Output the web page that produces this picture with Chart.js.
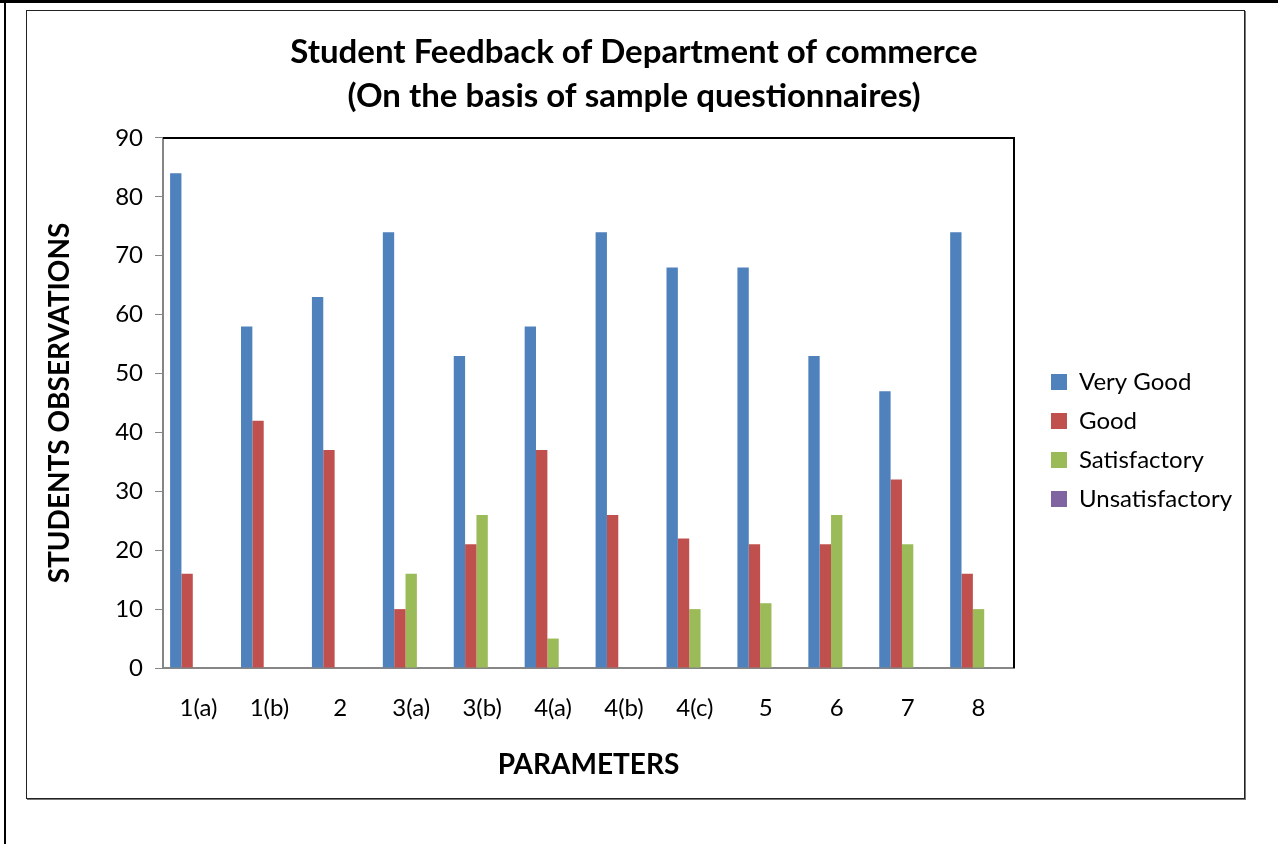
<!DOCTYPE html>
<html>
<head>
<meta charset="utf-8">
<script src="https://cdn.jsdelivr.net/npm/chart.js@4.4.1/dist/chart.umd.min.js"></script>
<style>
  body { margin: 0; background: #fff; }
  #page { position: relative; width: 1278px; height: 844px; overflow: hidden; }
  #outerTop { position: absolute; left: 0; top: 0; width: 1278px; height: 3px; background: #000; }
  #outerLeft { position: absolute; left: 4px; top: 0; width: 2px; height: 844px; background: #000; }
  #box { position: absolute; left: 26px; top: 10px; width: 1217px; height: 787px; border: 1px solid #222; box-shadow: 1px 1px 0 #777; }
  #Chart { position: absolute; left: 0; top: 0; }
</style>
</head>
<body>
<div id="page">
  <div id="outerTop"></div>
  <div id="outerLeft"></div>
  <div id="box"></div>
  <canvas id="Chart" width="1278" height="844"></canvas>
</div>
<script>
const categories = ["1(a)", "1(b)", "2", "3(a)", "3(b)", "4(a)", "4(b)", "4(c)", "5", "6", "7", "8"];
const veryGood = [84, 58, 63, 74, 53, 58, 74, 68, 68, 53, 47, 74];
const good = [16, 42, 37, 10, 21, 37, 26, 22, 21, 21, 32, 16];
const satisfactory = [0, 0, 0, 16, 26, 5, 0, 10, 11, 26, 21, 10];
const unsatisfactory = [0, 0, 0, 0, 0, 0, 0, 0, 0, 0, 0, 0];
// empty slot kept by the original sheet (no legend entry)
const blank = [null, null, null, null, null, null, null, null, null, null, null, null];

const FONT = "Lato";

// black frame on top/right of the plot area
const plotFrame = {
  id: "plotFrame",
  afterDraw(chart) {
    const { ctx, chartArea } = chart;
    ctx.save();
    ctx.strokeStyle = "#000";
    ctx.lineWidth = 2;
    ctx.beginPath();
    ctx.moveTo(chartArea.left, chartArea.top);
    ctx.lineTo(chartArea.right, chartArea.top);
    ctx.lineTo(chartArea.right, chartArea.bottom);
    ctx.stroke();
    ctx.restore();
  },
};

const ctx = document.getElementById("Chart");

new Chart(ctx, {
  type: "bar",
  data: {
    labels: categories,
    datasets: [
      { label: "Very Good", data: veryGood, backgroundColor: "#4F81BD" },
      { label: "Good", data: good, backgroundColor: "#C0504D" },
      { label: "Satisfactory", data: satisfactory, backgroundColor: "#9BBB59" },
      { label: "Unsatisfactory", data: unsatisfactory, backgroundColor: "#8064A2" },
      { label: "", data: blank, backgroundColor: "rgba(0,0,0,0)" },
    ],
  },
  options: {
    responsive: false,
    animation: false,
    datasets: {
      bar: { categoryPercentage: 0.8, barPercentage: 1.0 },
    },
    layout: {
      padding: { left: 31, top: 10, right: 41, bottom: 45 },
    },
    plugins: {
      title: {
        display: true,
        text: ["Student Feedback of Department of commerce", "(On the basis of sample questionnaires)"],
        color: "#000",
        font: { family: FONT, size: 33, weight: "bold", lineHeight: 1.333 },
        padding: { top: 20, bottom: 20 },
      },
      legend: {
        position: "right",
        title: {
          display: true,
          text: " ",
          font: { size: 12, lineHeight: 1 },
          padding: { top: 60, bottom: 0 },
        },
        labels: {
          color: "#000",
          font: { family: FONT, size: 24 },
          boxWidth: 16,
          boxHeight: 16,
          padding: 15,
          filter: (item) => item.text !== "",
        },
      },
      tooltip: { enabled: false },
    },
    scales: {
      x: {
        grid: { display: false },
        border: { display: true, color: "#868686", width: 2 },
        ticks: {
          color: "#000",
          font: { family: FONT, size: 24 },
          padding: 18,
          maxRotation: 0,
        },
        title: {
          display: true,
          text: "PARAMETERS",
          color: "#000",
          font: { family: FONT, size: 28, weight: "bold" },
          padding: { top: 4, bottom: 17 },
        },
        afterFit(scale) {
          scale.height = 131;
        },
      },
      y: {
        min: 0,
        max: 90,
        ticks: {
          stepSize: 10,
          color: "#000",
          font: { family: FONT, size: 24 },
          padding: 12,
        },
        grid: {
          drawOnChartArea: false,
          drawTicks: true,
          tickLength: 8,
          color: "#868686",
        },
        border: { display: true, color: "#868686", width: 2 },
        title: {
          display: true,
          text: "STUDENTS OBSERVATIONS",
          color: "#000",
          font: { family: FONT, size: 28, weight: "bold" },
          padding: { top: 12, bottom: 4 },
        },
        afterFit(scale) {
          scale.width = 132;
        },
      },
      gap: {
        position: "right",
        display: true,
        grid: { display: false },
        border: { display: false },
        ticks: { display: false },
        afterFit(scale) {
          scale.width = 22;
        },
      },
    },
  },
  plugins: [plotFrame],
});
</script>
</body>
</html>
